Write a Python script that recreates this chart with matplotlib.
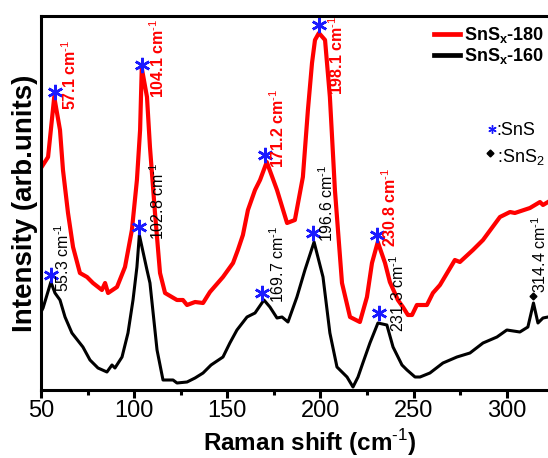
#!/usr/bin/env python3
"""Raman spectra of SnSx-180 / SnSx-160 films with marked SnS / SnS2 modes."""

import matplotlib

matplotlib.use("Agg")

import matplotlib.pyplot as plt
from matplotlib.lines import Line2D

plt.rcParams["font.family"] = ["Liberation Sans", "DejaVu Sans"]
plt.rcParams["mathtext.fontset"] = "custom"
plt.rcParams["mathtext.rm"] = "Liberation Sans"
plt.rcParams["mathtext.bf"] = "Liberation Sans:bold"

# --- spectra (Raman shift in cm^-1, intensity in arbitrary units) ---
RED_SHIFT = [
    50.0, 53.8, 57.1, 60.2, 61.8, 64.5, 67.2, 70.9, 74.7, 77.9, 82.7, 84.4, 86.0,
    90.8, 95.1, 98.8, 101.5, 103.2, 104.1, 106.9, 108.5, 111.2, 113.9, 116.6,
    123.0, 126.2, 128.4, 132.7, 137.0, 140.7, 147.7, 153.1, 155.7, 158.4, 161.1,
    164.9, 167.6, 171.2, 176.7, 182.1, 186.3, 190.6, 193.3, 195.5, 197.1, 199.2,
    202.5, 205.1, 207.8, 211.6, 215.9, 221.2, 225.0, 227.7, 230.8, 234.7, 237.3,
    241.6, 244.3, 247.0, 249.2, 251.8, 257.2, 260.4, 264.2, 272.2, 274.9, 281.9,
    287.3, 296.4, 301.8, 304.4, 312.5, 317.9, 319.5, 322.2,
]
RED_INT = [
    222, 233, 293, 260, 220, 177, 143, 117, 113, 107, 100, 107, 97,
    103, 123, 160, 210, 260, 322, 293, 243, 177, 117, 97,
    90, 90, 85, 88, 87, 98, 113, 127, 140, 155, 180,
    200, 210, 228, 200, 167, 170, 213, 280, 327, 350, 357,
    350, 293, 200, 107, 73, 68, 93, 127, 148, 127, 108,
    90, 83, 75, 75, 85, 85, 97, 105, 130, 128, 140,
    150, 173, 178, 177, 182, 188, 185, 188,
]

BLACK_SHIFT = [
    50.0, 51.1, 55.3, 57.5, 60.2, 62.9, 66.6, 72.5, 76.3, 80.6, 85.4, 88.1, 89.7,
    93.5, 96.7, 99.4, 101.5, 102.8, 106.9, 108.5, 112.3, 115.5, 120.9, 123.0,
    128.4, 132.7, 137.0, 141.3, 147.7, 151.4, 155.2, 160.6, 164.9, 169.7, 172.9,
    176.7, 179.4, 182.6, 187.4, 191.7, 196.6, 201.4, 205.1, 208.9, 214.3, 217.5,
    220.2, 222.8, 226.6, 230.9, 235.7, 239.0, 243.8, 246.5, 250.8, 253.5, 258.8,
    265.8, 273.3, 280.3, 287.3, 294.8, 300.1, 307.1, 311.4, 314.4, 316.8, 319.5,
    322.2,
]
BLACK_INT = [
    78, 82, 108, 97, 90, 73, 57, 43, 30, 22, 18, 25, 22,
    33, 57, 90, 123, 155, 120, 107, 40, 10, 10, 7,
    8, 12, 17, 25, 33, 47, 60, 73, 77, 90, 83,
    72, 73, 68, 93, 120, 148, 113, 57, 23, 13, 3,
    13, 27, 47, 67, 65, 43, 25, 20, 13, 13, 17,
    27, 33, 37, 47, 53, 60, 58, 63, 87, 67, 72,
    73,
]

# --- peak annotations ---
RED_PEAKS = ["57.1", "104.1", "171.2", "198.1", "230.8"]
RED_LABEL_X = [65.6, 112.8, 177.2, 208.9, 237.3]
RED_LABEL_Y = [280, 292, 222, 295, 143]
RED_STAR_X = [57.5, 104.2, 170.2, 199.2, 230.4]
RED_STAR_Y = [298, 325, 235, 365, 155]

BLACK_PEAKS = ["55.3", "102.8", "169.7", "196.6", "231.3", "314.4"]
BLACK_LABEL_X = [61.8, 112.8, 177.2, 203.5, 241.6, 317.9]
BLACK_LABEL_Y = [98, 150, 87, 148, 58, 97]
BLACK_STAR_X = [55.4, 102.6, 168.6, 196.0, 231.4]
BLACK_STAR_Y = [115, 163, 97, 157, 77]
SNS2_X = [314.1]
SNS2_Y = [94]

SERIES_LABELS = [r"SnS$_\mathbf{x}$-180", r"SnS$_\mathbf{x}$-160"]
SERIES_COLORS = ["#ff0000", "#000000"]
STAR_COLOR = "#1a1aff"
ASTERISK = (6, 2, 0)
WAVENUMBER = " cm$^{\u20101}$"


def _label_peaks(ax, names, xs, ys, color, weight):
    for name, x, y in zip(names, xs, ys):
        ax.text(x, y, name + WAVENUMBER, rotation=90, ha="center", va="bottom",
                fontsize=11.5, color=color, fontweight=weight)


def main() -> None:
    fig = plt.figure(figsize=(5.48, 4.58), dpi=100)
    ax = fig.add_axes([41 / 548, 68 / 458, 1 - 41 / 548, 374 / 458])

    ax.plot(RED_SHIFT, RED_INT, color=SERIES_COLORS[0], linewidth=3.0)
    ax.plot(BLACK_SHIFT, BLACK_INT, color=SERIES_COLORS[1], linewidth=2.2)

    ax.plot(RED_STAR_X, RED_STAR_Y, linestyle="none", marker=ASTERISK,
            markersize=11, markeredgewidth=1.8, color=STAR_COLOR)
    ax.plot(BLACK_STAR_X, BLACK_STAR_Y, linestyle="none", marker=ASTERISK,
            markersize=11, markeredgewidth=1.8, color=STAR_COLOR)
    ax.plot(SNS2_X, SNS2_Y, linestyle="none", marker="D", markersize=3.5, color="black")

    _label_peaks(ax, RED_PEAKS, RED_LABEL_X, RED_LABEL_Y, SERIES_COLORS[0], "bold")
    _label_peaks(ax, BLACK_PEAKS, BLACK_LABEL_X, BLACK_LABEL_Y, SERIES_COLORS[1], "normal")

    # phase key
    ax.plot([292.3], [261], linestyle="none", marker=ASTERISK, markersize=6,
            markeredgewidth=1.0, color=STAR_COLOR)
    ax.text(294.6, 260, ":SnS", fontsize=13, va="center", ha="left")
    ax.plot([291.2], [237], linestyle="none", marker="D", markersize=3.5, color="black")
    ax.text(294.6, 233, r":SnS$_2$", fontsize=13, va="center", ha="left")

    handles = [Line2D([], [], color=c, linewidth=3.4) for c in SERIES_COLORS]
    ax.legend(handles, SERIES_LABELS, loc="upper right", bbox_to_anchor=(1.0, 0.985),
              frameon=False, handlelength=1.45, handletextpad=0.25,
              labelspacing=0.05, borderaxespad=0.1, borderpad=0.1,
              prop={"weight": "bold", "size": 13})

    ax.set_xlim(50, 322.2)
    ax.set_ylim(0, 374)
    ax.set_xticks([50, 100, 150, 200, 250, 300])
    ax.set_xticks([75, 125, 175, 225, 275], minor=True)
    ax.set_yticks([])
    ax.tick_params(axis="x", which="major", direction="out", length=6, width=2.2,
                   labelsize=17, pad=1)
    ax.tick_params(axis="x", which="minor", direction="out", length=3.5, width=2.2)
    for side in ("left", "bottom", "top"):
        ax.spines[side].set_linewidth(2.2)
    ax.spines["right"].set_visible(False)

    ax.set_xlabel("Raman shift (cm$^{\u20101}$)", fontsize=17.5, fontweight="bold")
    ax.xaxis.set_label_coords(0.53, -0.1)
    ax.set_ylabel("Intensity (arb.units)", fontsize=20, fontweight="bold", labelpad=2)

    fig.savefig("out.png", dpi=100)


if __name__ == "__main__":
    main()
